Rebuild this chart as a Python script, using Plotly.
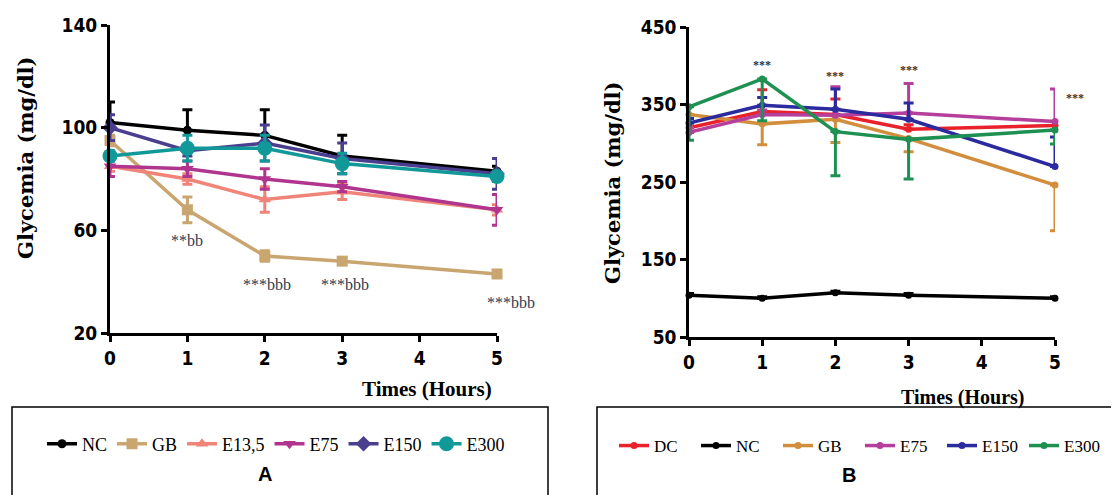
import plotly.graph_objects as go

W, H = 1119, 495
OFF = 8  # page body offset of the rendered figure

hours = [0, 1, 2, 3, 5]
x_tick_vals = [0, 1, 2, 3, 4, 5]

# ---------------- Panel A data ----------------
a_names = ["NC", "GB", "E13,5", "E75", "E150", "E300"]
a_nc = [102, 99, 97, 89, 83]
a_nc_err = [8, 8, 10, 8, 2]
a_gb = [95, 68, 50, 48, 43]
a_gb_err = [2, 5, 2, 1, 1]
a_e13 = [85, 80, 72, 75, 68]
a_e13_err = [2, 2, 5, 3, 2]
a_e75 = [85, 84, 80, 77, 68]
a_e75_err = [4, 3, 4, 2, 6]
a_e150 = [100, 91, 94, 88, 82]
a_e150_err = [5, 2, 7, 6, 6]
a_e300 = [89, 92, 92, 86, 81]
a_e300_err = [2, 5, 5, 4, 2]
a_y_ticks = [20, 60, 100, 140]
a_annot_text = ["**bb", "***bbb", "***bbb", "***bbb"]
a_annot_x = [1.0, 2.03, 3.03, 5.18]
a_annot_y = [56, 39, 39, 32]

# ---------------- Panel B data ----------------
b_names = ["DC", "NC", "GB", "E75", "E150", "E300"]
b_dc = [320, 341, 337, 318, 323]
b_dc_err = [6, 28, 20, 6, 5]
b_nc = [104, 100, 107, 104, 100]
b_nc_err = [2, 2, 2, 2, 2]
b_gb = [337, 325, 331, 306, 246]
b_gb_err = [5, 27, 30, 17, 59]
b_e75 = [314, 337, 336, 339, 328]
b_e75_err = [6, 6, 37, 38, 42]
b_e150 = [326, 349, 344, 331, 270]
b_e150_err = [6, 10, 26, 21, 38]
b_e300 = [347, 383, 315, 305, 317]
b_e300_err = [43, 54, 57, 51, 18]
b_y_ticks = [50, 150, 250, 350, 450]
b_annot_text = ["***", "***", "***", "***"]
b_annot_x = [1.0, 2.0, 3.0, 5.27]
b_annot_y = [401, 387, 394, 358]

fig = go.Figure()

a_specs = [
    ("NC", a_nc, a_nc_err, "#000000", "circle", 9, "up"),
    ("GB", a_gb, a_gb_err, "#c9a56f", "square", 11, "both"),
    ("E13,5", a_e13, a_e13_err, "#f08478", "triangle-up", 11, "both"),
    ("E75", a_e75, a_e75_err, "#b0358e", "triangle-down", 11, "both"),
    ("E150", a_e150, a_e150_err, "#4a3f8e", "diamond", 12, "both"),
    ("E300", a_e300, a_e300_err, "#11999a", "circle", 15, "both"),
]
for name, vals, err, col, sym, size, d in a_specs:
    ey = dict(type="data", array=err, color=col, thickness=3, width=5,
              symmetric=(d == "both"))
    if d == "up":
        ey["arrayminus"] = [0] * len(err)
    fig.add_trace(go.Scatter(
        x=hours, y=vals, name=name, mode="lines+markers",
        line=dict(color=col, width=3.5),
        marker=dict(color=col, symbol=sym, size=size),
        error_y=ey, xaxis="x", yaxis="y", legend="legend", cliponaxis=False))

b_specs = [
    ("DC", b_dc, b_dc_err, "#e8212b", "up"),
    ("NC", b_nc, b_nc_err, "#000000", "up"),
    ("GB", b_gb, b_gb_err, "#d28e3c", "down"),
    ("E75", b_e75, b_e75_err, "#b43f9c", "up"),
    ("E150", b_e150, b_e150_err, "#2b2a9e", "up"),
    ("E300", b_e300, b_e300_err, "#1e9152", "down"),
]
for name, vals, err, col, d in b_specs:
    if d == "up":
        ey = dict(type="data", array=err, arrayminus=[0] * len(err), symmetric=False)
    else:
        ey = dict(type="data", array=[0] * len(err), arrayminus=err, symmetric=False)
    ey.update(color=col, thickness=3, width=5)
    fig.add_trace(go.Scatter(
        x=hours, y=vals, name=name, mode="lines+markers",
        line=dict(color=col, width=3.5),
        marker=dict(color=col, symbol="circle", size=7),
        error_y=ey, xaxis="x2", yaxis="y2", legend="legend2", cliponaxis=False))

tick_font = dict(family="Liberation Sans Narrow, DejaVu Sans Condensed, Arial Narrow, sans-serif",
                 size=19, color="#000000", weight="bold")

def px_x(p):
    return (p - OFF) / W

def px_y(p):
    return 1 - (p - OFF) / H

A_X = [px_x(110), px_x(497)]
A_Y = [px_y(333), px_y(25)]
B_X = [px_x(689), px_x(1055)]
B_Y = [px_y(337), px_y(27)]
A_XR, A_YR = [0, 5], [20, 140]
B_XR, B_YR = [0, 5], [50, 450]

def data_to_paper(v, dom, rng):
    return dom[0] + (v - rng[0]) / (rng[1] - rng[0]) * (dom[1] - dom[0])

axis_common = dict(showgrid=False, zeroline=False, showline=True, linecolor="#000000",
                   ticks="outside", tickcolor="#000000", tickfont=tick_font, automargin=False)

legend_font_a = dict(family="Liberation Serif, Times New Roman, serif", size=18, color="#000")
legend_font_b = dict(family="Liberation Serif, Times New Roman, serif", size=17, color="#000")

fig.update_layout(
    width=W, height=H,
    margin=dict(l=0, r=0, t=0, b=0, pad=0, autoexpand=False),
    paper_bgcolor="white", plot_bgcolor="white",
    xaxis=dict(domain=A_X, range=A_XR, tickvals=x_tick_vals,
               anchor="y", linewidth=3, tickwidth=3, ticklen=6, **axis_common),
    yaxis=dict(domain=A_Y, range=A_YR, tickvals=a_y_ticks,
               anchor="x", linewidth=3, tickwidth=3, ticklen=6, **axis_common),
    xaxis2=dict(domain=B_X, range=B_XR, tickvals=x_tick_vals,
                anchor="y2", linewidth=2.5, tickwidth=2.5, ticklen=6, **axis_common),
    yaxis2=dict(domain=B_Y, range=B_YR, tickvals=b_y_ticks,
                anchor="x2", linewidth=2.5, tickwidth=2.5, ticklen=6, **axis_common),
    showlegend=True,
    legend=dict(orientation="h", x=px_x(42), y=px_y(444), xanchor="left", yanchor="middle",
                font=legend_font_a, bgcolor="rgba(0,0,0,0)", itemwidth=30, tracegroupgap=0),
    legend2=dict(orientation="h", x=px_x(614), y=px_y(446), xanchor="left", yanchor="middle",
                 font=legend_font_b, bgcolor="rgba(0,0,0,0)", itemwidth=30, tracegroupgap=0,
                 entrywidth=37, entrywidthmode="pixels"),
)

fig.add_shape(type="rect", xref="paper", yref="paper",
              x0=px_x(12), x1=px_x(548), y0=px_y(505), y1=px_y(407),
              line=dict(color="#000", width=1.5), fillcolor="rgba(0,0,0,0)")
fig.add_shape(type="rect", xref="paper", yref="paper",
              x0=px_x(597), x1=px_x(1130), y0=px_y(505), y1=px_y(407),
              line=dict(color="#000", width=1.5), fillcolor="rgba(0,0,0,0)")

title_font = dict(family="DejaVu Serif, Liberation Serif, serif", size=21, color="#000", weight="bold")
xt_font = dict(family="Liberation Serif, Times New Roman, serif", size=21, color="#000", weight="bold")

def ann(text, x, y, font, angle=0):
    fig.add_annotation(text=text, xref="paper", yref="paper", x=x, y=y, textangle=angle,
                       showarrow=False, font=font, xanchor="center", yanchor="middle")

ann("Glycemia (mg/dl)", px_x(26), px_y(158), title_font, angle=-90)
ann("Glycemia (mg/dl)", px_x(612), px_y(183), title_font, angle=-90)
ann("Times (Hours)", px_x(427), px_y(389), xt_font)
ann("Times (Hours)", px_x(963), px_y(397),
    dict(family="Liberation Serif, Times New Roman, serif", size=20, color="#000", weight="bold"))

letter_font = dict(family="Liberation Sans, Arial, sans-serif", size=20, color="#000", weight="bold")
ann("A", px_x(265), px_y(474), letter_font)
ann("B", px_x(849), px_y(475), letter_font)

for t, xx, yy in zip(a_annot_text, a_annot_x, a_annot_y):
    ann(t, data_to_paper(xx, A_X, A_XR), data_to_paper(yy, A_Y, A_YR),
        dict(family="Liberation Serif, Times New Roman, serif", size=16, color="#2e3a52"))
for t, xx, yy in zip(b_annot_text, b_annot_x, b_annot_y):
    ann(t, data_to_paper(xx, B_X, B_XR), data_to_paper(yy, B_Y, B_YR),
        dict(family="Liberation Serif, Times New Roman, serif", size=12,
             color="#333333", weight="bold"))

fig.write_html("out.html")
